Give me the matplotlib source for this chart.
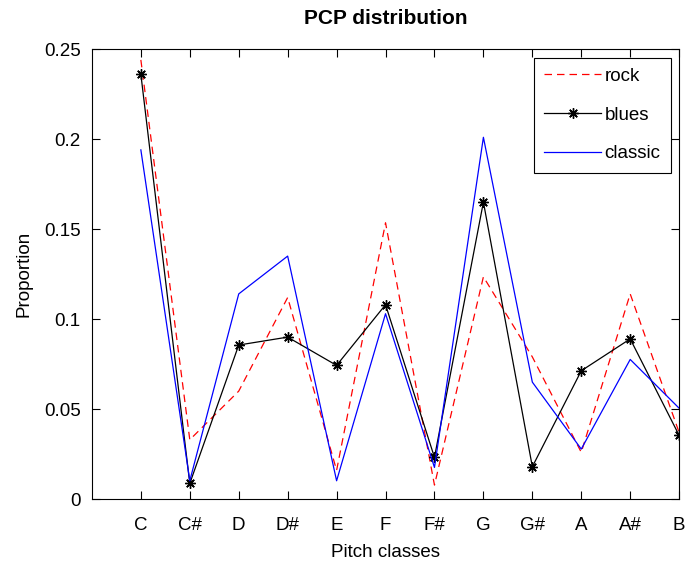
import numpy as np
from matplotlib import pyplot as plt

plt.rcParams['font.family'] = ['Liberation Sans', 'DejaVu Sans']

pitch = ['C', 'C#', 'D', 'D#', 'E', 'F', 'F#', 'G', 'G#', 'A', 'A#', 'B']
rock = [0.244, 0.033, 0.060, 0.112, 0.016, 0.1535, 0.0078, 0.1235, 0.079, 0.026, 0.114, 0.037]
blues = [0.236, 0.0087, 0.0856, 0.090, 0.0743, 0.108, 0.0232, 0.165, 0.018, 0.0713, 0.089, 0.0354]
classic = [0.194, 0.0102, 0.114, 0.135, 0.0102, 0.103, 0.0176, 0.201, 0.065, 0.0278, 0.0776, 0.0505]

x = np.arange(1, len(pitch) + 1)

fig = plt.figure(figsize=(6.86, 5.64), dpi=100)
ax = fig.add_axes([0.134, 0.115, 0.856, 0.798])

# asterisk marker: 8 spokes through the centre
ast = (8, 2, 0)
ax.plot(x, rock, color='red', linestyle=(0, (6, 4)), linewidth=0.9, label='rock')
ax.plot(x, blues, color='black', marker=ast, markersize=7.5, markeredgewidth=1.0,
        linewidth=0.9, label='blues')
ax.plot(x, classic, color='blue', linewidth=0.9, label='classic')

ax.set_xlim(0, 12)
ax.set_ylim(0, 0.25)
ax.set_xticks(x)
ax.set_xticklabels(pitch)
ax.set_yticks([0, 0.05, 0.1, 0.15, 0.2, 0.25])
ax.set_yticklabels(['0', '0.05', '0.1', '0.15', '0.2', '0.25'])
ax.tick_params(direction='in', length=6, width=0.8, top=True, right=True,
               labelsize=13.5)
ax.tick_params(axis='y', pad=8)
ax.tick_params(axis='x', pad=13)
for s in ax.spines.values():
    s.set_linewidth(0.8)

ax.set_title('PCP distribution', fontsize=15, fontweight='bold', pad=18)
ax.set_xlabel('Pitch classes', fontsize=13.5, labelpad=7)
ax.set_ylabel('Proportion', fontsize=13.5, labelpad=8)

leg = ax.legend(loc='upper right', fontsize=13.5, fancybox=False, framealpha=1,
                edgecolor='black', borderaxespad=0.45, handlelength=3.0,
                handletextpad=0.2, labelspacing=1.15, borderpad=0.55)
leg.get_frame().set_linewidth(0.8)

fig.savefig('out.png', dpi=100)
